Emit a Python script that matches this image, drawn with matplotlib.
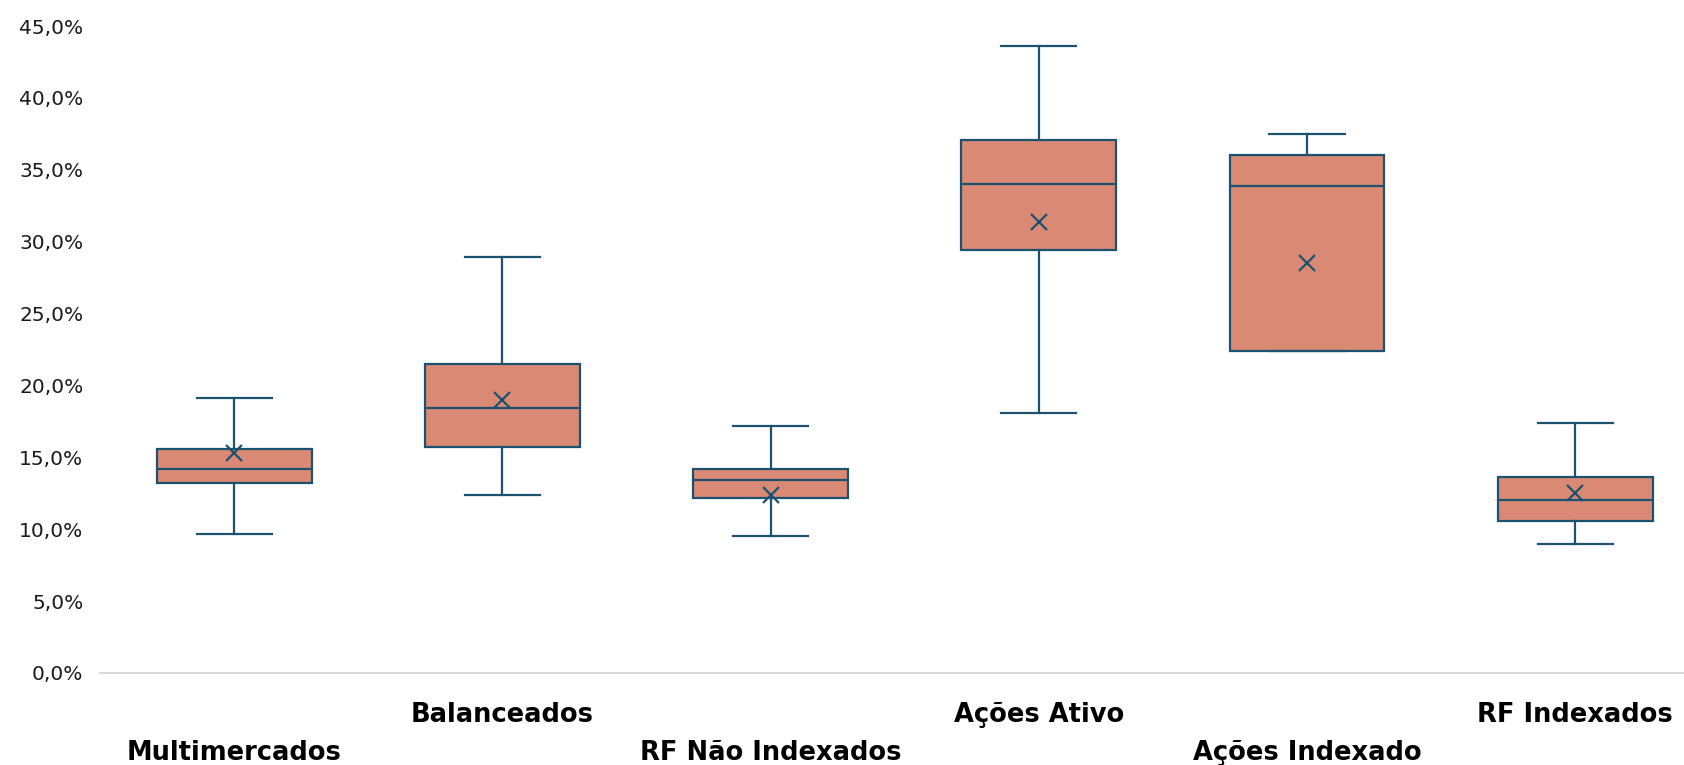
import matplotlib
matplotlib.use('Agg')
import matplotlib.pyplot as plt
import matplotlib.transforms as mtransforms
from matplotlib.ticker import FuncFormatter

# Dados (em %)
categorias = ['Multimercados', 'Balanceados', 'RF Não Indexados',
              'Ações Ativo', 'Ações Indexado', 'RF Indexados']
minimo = [9.7, 12.4, 9.5, 18.1, 22.4, 9.0]
q1 = [13.2, 15.7, 12.2, 29.4, 22.4, 10.6]
mediana = [14.2, 18.4, 13.4, 34.0, 33.9, 12.0]
q3 = [15.6, 21.5, 14.2, 37.1, 36.0, 13.6]
maximo = [19.1, 28.9, 17.2, 43.6, 37.5, 17.4]
media = [15.3, 19.0, 12.4, 31.4, 28.5, 12.5]

cor_caixa = '#DA8A74'
cor_linha = '#1C5270'

plt.rcParams['font.family'] = ['DejaVu Sans']

fig = plt.figure(figsize=(16.84, 7.65), dpi=100)
ax = fig.add_axes([0.0594, 0.1203, 0.9556, 0.8457])

stats = []
for i, nome in enumerate(categorias):
    stats.append({
        'label': nome,
        'whislo': minimo[i],
        'q1': q1[i],
        'med': mediana[i],
        'q3': q3[i],
        'whishi': maximo[i],
        'mean': media[i],
        'fliers': [],
    })

posicoes = list(range(len(categorias)))
ax.bxp(stats, positions=posicoes, widths=0.577, patch_artist=True,
       showmeans=True, showfliers=False, capwidths=0.28,
       boxprops=dict(facecolor=cor_caixa, edgecolor=cor_linha, linewidth=1.6),
       medianprops=dict(color=cor_linha, linewidth=1.6),
       whiskerprops=dict(color=cor_linha, linewidth=1.6),
       capprops=dict(color=cor_linha, linewidth=1.6),
       meanprops=dict(marker='x', markeredgecolor=cor_linha,
                      markersize=12, markeredgewidth=1.6))

ax.set_xlim(-0.5, len(categorias) - 0.5)
ax.set_ylim(0, 45)
ax.set_yticks(range(0, 46, 5))
ax.yaxis.set_major_formatter(FuncFormatter(lambda v, p: f'{v:.1f}%'.replace('.', ',')))
ax.tick_params(axis='y', length=0, pad=12, labelsize=14.5, labelcolor='#1A1A1A')
ax.set_xticks([])

for lado in ['top', 'right', 'left']:
    ax.spines[lado].set_visible(False)
ax.spines['bottom'].set_color('#D9D9D9')
ax.spines['bottom'].set_linewidth(1.5)

# Rótulos das categorias alternados (como no Excel)
trans = mtransforms.blended_transform_factory(ax.transData, ax.transAxes)
for i, nome in enumerate(categorias):
    y = -0.1345 if i % 2 == 0 else -0.0753
    ax.text(i, y, nome, transform=trans, ha='center', va='baseline',
            fontsize=18.5, fontweight='bold', color='black')

fig.savefig('out.png', dpi=100)
